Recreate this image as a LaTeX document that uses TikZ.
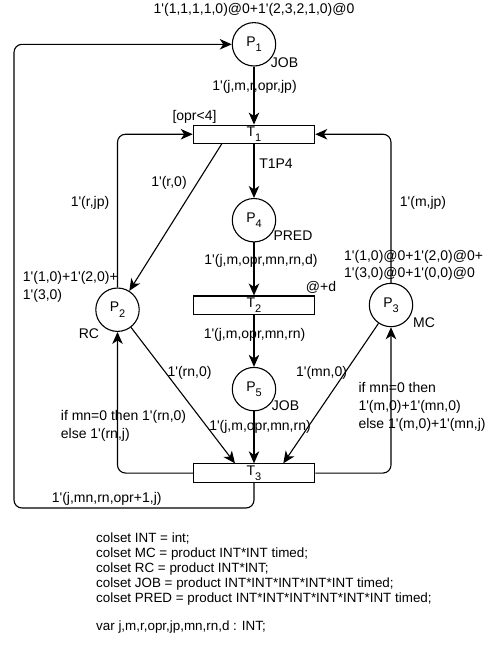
\documentclass[tikz,border=0pt]{standalone}
\usepackage{fontspec}
\setmainfont{Liberation Sans}
\usepackage{tikz}
\usetikzlibrary{arrows.meta,positioning}
\newcommand\ap{\textquotesingle}
\newcommand\pn[2]{#1\raisebox{-5.5pt}{\fontsize{11}{11}\selectfont #2}}
\newcommand\lbfont{\fontsize{14}{17.7}\selectfont}
\newcommand\dcfont{\fontsize{13.4}{15.2}\selectfont}

\begin{document}
\begin{tikzpicture}[x=1pt, y=-1pt,
    place/.style={circle, draw, line width=1.1pt, minimum size=43.4pt, inner sep=0pt, font=\lbfont},
    trans/.style={rectangle, draw, line width=1.1pt, minimum width=121.4pt, minimum height=18.3pt, inner sep=0pt, font=\lbfont},
    lbl/.style={inner sep=0pt, font=\lbfont},
    lblleft/.style={inner sep=0pt, font=\lbfont, align=left, anchor=west},
    decl/.style={inner sep=0pt, font=\dcfont, align=left, anchor=west},
    arcline/.style={-{Stealth[length=12pt, width=10.5pt, inset=3.5pt]}, line width=1.1pt, rounded corners=8pt}
]
\useasboundingbox (0,0) rectangle (497,662);

\node[place] (P1) at (254,44.3) {\pn{P}{1}};
\node[trans, below=58pt of P1] (T1) {\pn{T}{1}};
\node[place, below=54pt of T1] (P4) {\pn{P}{4}};
\node[trans, below=53pt of P4] (T2) {\pn{T}{2}};
\node[place, below=52pt of T2] (P5) {\pn{P}{5}};
\node[trans, below=52pt of P5] (T3) {\pn{T}{3}};
\node[place] (P2) at (117.5,309.7) {\pn{P}{2}};
\node[place] (P3) at (391,305) {\pn{P}{3}};
\coordinate (back) at (14,508);

\draw[arcline] (P1) -- (T1);
\draw[arcline] (T1) -- (P4);
\draw[arcline] (P4) -- (T2);
\draw[arcline] (T2) -- (P5);
\draw[arcline] (P5) -- (T3);
\draw[arcline] ([xshift=-32.3pt]T1.south) -- (P2);
\draw[arcline] (P2) -- ([xshift=-19pt]T3.north);
\draw[arcline] (P3) -- ([xshift=29.3pt]T3.north);
\draw[arcline] (P2.north) |- (T1.west);
\draw[arcline] (P3.north) |- (T1.east);
\draw[arcline] (T3.west) -| (P2.south);
\draw[arcline] (T3.east) -| (P3.south);
\draw[arcline] (T3.south) |- (back) |- (P1.west);

\node[lbl] (init1) at (254,10) {1\ap(1,1,1,1,0)@0+1\ap(2,3,2,1,0)@0};
\node[lbl] (job1) at (284.5,62.7) {JOB};
\node[lbl] (a1) at (254.5,87) {1\ap(j,m,r,opr,jp)};
\node[lbl] (guard) at (194.5,117) {[opr<4]};
\node[lbl] (a2) at (276,164) {T1P4};
\node[lbl] (a3) at (169,183) {1\ap(r,0)};
\node[lbl] (a4) at (90,203) {1\ap(r,jp)};
\node[lbl] (a5) at (423,203) {1\ap(m,jp)};
\node[lbl] (pred) at (293,236) {PRED};
\node[lbl] (a6) at (261,260.7) {1\ap(j,m,opr,mn,rn,d)};
\node[lblleft] (init3) at (344,265.3) {1\ap(1,0)@0+1\ap(2,0)@0+\\1\ap(3,0)@0+1\ap(0,0)@0};
\node[lblleft] (init2) at (22.7,287) {1\ap(1,0)+1\ap(2,0)+\\1\ap(3,0)};
\node[lbl] (delay) at (321,287) {@+d};
\node[lbl] (rc) at (89,334) {RC};
\node[lbl] (mc) at (424,322.7) {MC};
\node[lbl] (a7) at (254.5,335) {1\ap(j,m,opr,mn,rn)};
\node[lbl] (a8) at (189.5,372.7) {1\ap(rn,0)};
\node[lbl] (a9) at (321.5,372.7) {1\ap(mn,0)};
\node[lbl] (job5) at (285.5,406) {JOB};
\node[lblleft] (a10) at (358.3,406.7) {if mn=0 then\\1\ap(m,0)+1\ap(mn,0)\\else 1\ap(m,0)+1\ap(mn,j)};
\node[lblleft] (a11) at (60.7,426) {if mn=0 then 1\ap(rn,0)\\else 1\ap(rn,j)};
\node[lbl] (a12) at (260,426.7) {1\ap(j,m,opr,mn,rn)};
\node[lbl] (a13) at (106.7,499.3) {1\ap(j,mn,rn,opr+1,j)};

\node[decl] (decls) at (96,583) {colset INT = int;\\colset MC = product INT*INT timed;\\colset RC = product INT*INT;\\colset JOB = product INT*INT*INT*INT*INT timed;\\colset PRED = product INT*INT*INT*INT*INT*INT timed;\\[12.8pt]var j,m,r,opr,jp,mn,rn,d : INT;};
\end{tikzpicture}
\end{document}
